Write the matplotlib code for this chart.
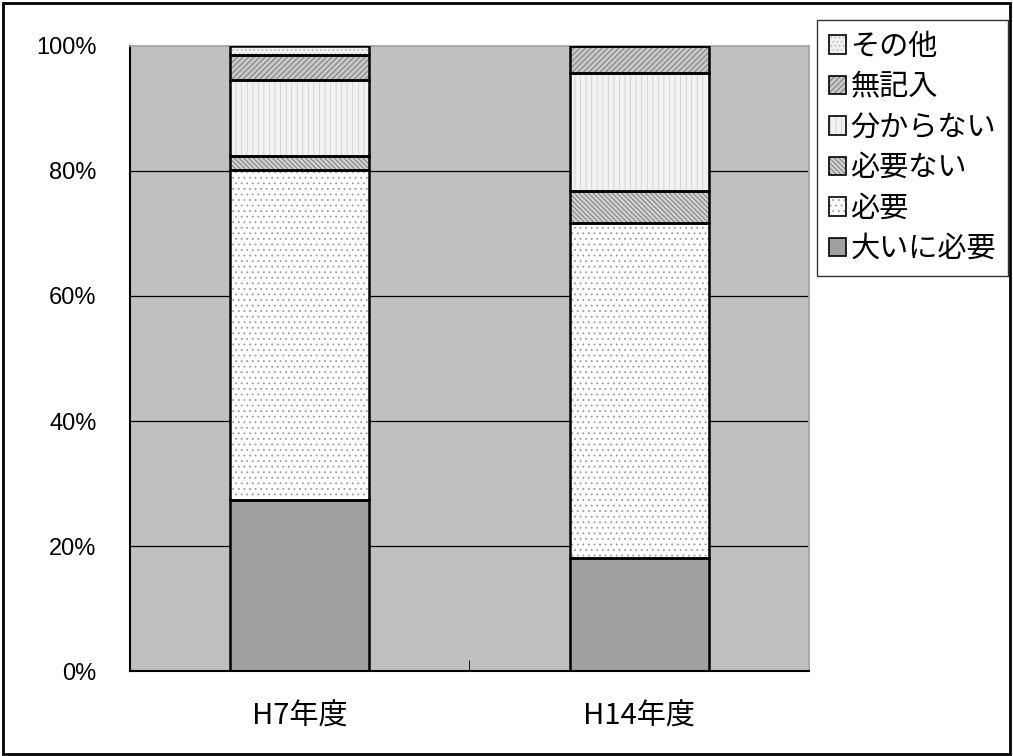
import matplotlib
matplotlib.use("Agg")
import matplotlib.pyplot as plt
import numpy as np
from matplotlib.patches import Patch, Rectangle
from matplotlib.legend_handler import HandlerTuple

years = ["H7年度", "H14年度"]
answers = ["大いに必要", "必要", "必要ない", "分からない", "無記入", "その他"]
# share of answers per survey year (%)
h7 = [27.4, 52.7, 2.3, 12.2, 4.0, 1.4]
h14 = [18.1, 53.6, 5.1, 18.9, 4.3, 0.0]
yticks = [0, 20, 40, 60, 80, 100]
ytick_labels = ["0%", "20%", "40%", "60%", "80%", "100%"]

# fill / hatch / hatch colour per answer
styles = [
    ("#A0A0A0", "", "#A0A0A0"),
    ("#FFFFFF", "...", "#9A9A9A"),
    ("#D0D0D0", "\\\\\\\\\\\\\\", "#707070"),
    ("#F2F2F2", "|||", "#CFCFCF"),
    ("#C8C8C8", "//////", "#6E6E6E"),
    ("#F0F0F0", "....", "#B4B4B4"),
]

plt.rcParams["hatch.linewidth"] = 0.6
jp = ["Noto Sans CJK JP", "DejaVu Sans"]

fig = plt.figure(figsize=(10.13, 7.56), dpi=100)
ax = fig.add_axes([0.1283, 0.1124, 0.6703, 0.8268])
ax.set_facecolor("#C0C0C0")

data = np.array([h7, h14])
x = np.arange(len(years))
width = 0.41
bottom = np.zeros(len(years))
handles = []
for i, name in enumerate(answers):
    face, hatch, hc = styles[i]
    vals = data[:, i]
    ax.bar(x, vals, width, bottom=bottom, color=face, hatch=hatch,
           edgecolor=hc, linewidth=0, zorder=2)
    ax.bar(x, vals, width, bottom=bottom, fill=False, edgecolor="black",
           linewidth=1.8, zorder=3)
    bottom += vals
    handles.append((Patch(facecolor=face, hatch=hatch, edgecolor=hc, linewidth=0),
                    Patch(fill=False, edgecolor="black", linewidth=1.2)))

ax.set_xlim(-0.5, 1.5)
ax.set_ylim(0, 100)
for y in yticks[1:-1]:
    ax.axhline(y, color="black", linewidth=0.9, zorder=1)

ax.set_yticks(yticks)
ax.set_yticklabels(ytick_labels, fontsize=17, family="Liberation Sans")
ax.tick_params(axis="y", length=0, pad=24)
ax.set_xticks(x)
ax.set_xticklabels(years, fontsize=21, family=jp)
ax.tick_params(axis="x", length=0, pad=22)
ax.set_xticks([0.5], minor=True)
ax.tick_params(axis="x", which="minor", direction="in", length=8, color="black")

for side in ["top", "right"]:
    ax.spines[side].set_color("#A0A0A0")
    ax.spines[side].set_linewidth(1.2)
ax.spines["left"].set_linewidth(1.5)
ax.spines["bottom"].set_linewidth(1.5)

leg = fig.legend(handles[::-1], answers[::-1],
                 handler_map={tuple: HandlerTuple(ndivide=1, pad=0)},
                 loc="upper left", bbox_to_anchor=(817 / 1013, 1 - 20 / 756),
                 bbox_transform=fig.transFigure,
                 prop={"family": jp, "size": 21}, frameon=True, fancybox=False,
                 edgecolor="black", handlelength=0.6, handleheight=0.6,
                 handletextpad=0.15, labelspacing=0.36, borderpad=0.4,
                 borderaxespad=0)
leg.get_frame().set_linewidth(1.0)

fig.patches.append(Rectangle((0.003, 0.003), 0.994, 0.993, transform=fig.transFigure,
                             fill=False, edgecolor="black", linewidth=2))

fig.savefig("out.png", dpi=100)
